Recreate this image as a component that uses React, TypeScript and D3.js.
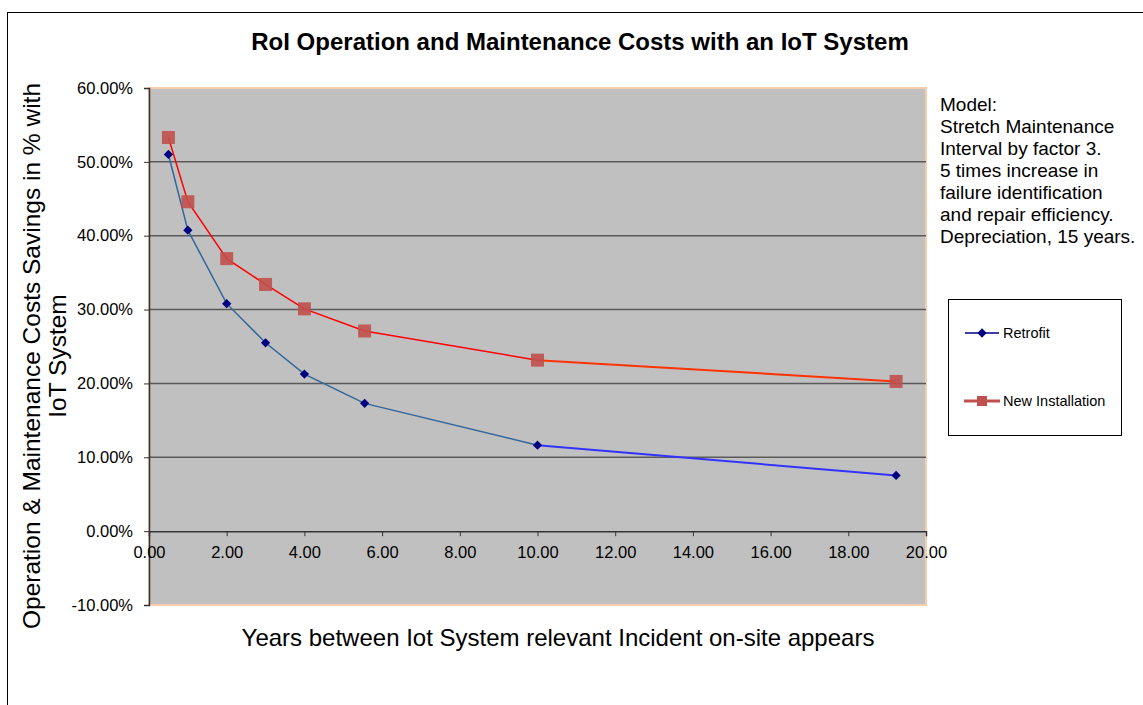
import React, { useEffect, useRef } from 'react';
import * as d3 from 'd3';

const years = [0.5, 1, 2, 3, 4, 5.55, 10, 19.23];
const retrofit = [0.51, 0.4075, 0.308, 0.255, 0.2126, 0.173, 0.1164, 0.0754];
const newInstallation = [0.533, 0.446, 0.369, 0.334, 0.301, 0.271, 0.2315, 0.2027];

const xTicks = [0, 2, 4, 6, 8, 10, 12, 14, 16, 18, 20];
const yTicks = [-0.1, 0, 0.1, 0.2, 0.3, 0.4, 0.5, 0.6];
const gridValues = [0.1, 0.2, 0.3, 0.4, 0.5];

const modelNote = [
  'Model:',
  'Stretch Maintenance',
  'Interval by factor 3.',
  '5 times increase in',
  'failure identification',
  'and repair efficiency.',
  'Depreciation, 15 years.',
];

const App: React.FC = () => {
  const svgRef = useRef<SVGSVGElement | null>(null);

  useEffect(() => {
    if (!svgRef.current) return;
    const svg = d3.select(svgRef.current);
    svg.selectAll('*').remove();
    const font = '"Liberation Sans", Arial, sans-serif';

    const left = 149, right = 926, top = 88, bottom = 605;
    const x = d3.scaleLinear().domain([0, 20]).range([left, right]);
    const y = d3.scaleLinear().domain([-0.1, 0.6]).range([bottom, top]);

    // outer frame
    svg.append('rect')
      .attr('x', 7.5).attr('y', 12.5)
      .attr('width', 1160).attr('height', 720)
      .attr('fill', 'white').attr('stroke', '#000').attr('stroke-width', 1);

    // plot area
    svg.append('rect')
      .attr('x', left).attr('y', top)
      .attr('width', right - left).attr('height', bottom - top)
      .attr('fill', '#c0c0c0').attr('stroke', '#f8cbad').attr('stroke-width', 2);

    // gridlines
    svg.append('g').selectAll('line')
      .data(gridValues)
      .join('line')
      .attr('x1', left).attr('x2', right)
      .attr('y1', d => y(d)).attr('y2', d => y(d))
      .attr('stroke', '#5a5a5a').attr('stroke-width', 1.5);

    const pct = (d: number) => (d < 0 ? '-' : '') + Math.abs(d * 100).toFixed(2) + '%';

    // y axis
    const yAxis = svg.append('g')
      .attr('transform', `translate(${left},0)`)
      .call(d3.axisLeft(y).tickValues(yTicks).tickSize(5).tickPadding(11)
        .tickFormat(d => pct(d as number)));
    yAxis.select('.domain').attr('stroke', '#333').attr('stroke-width', 1.5);
    yAxis.selectAll('.tick line').attr('stroke', '#333');
    yAxis.selectAll('text').style('font', `16.5px ${font}`).attr('fill', '#000');

    // x axis on the zero line
    const xAxis = svg.append('g')
      .attr('transform', `translate(0,${y(0)})`)
      .call(d3.axisBottom(x).tickValues(xTicks).tickSize(5).tickPadding(10)
        .tickFormat(d => (d as number).toFixed(2)));
    xAxis.select('.domain').attr('stroke', '#333').attr('stroke-width', 1.5);
    xAxis.selectAll('.tick line').attr('stroke', '#333');
    xAxis.selectAll('text').style('font', `16.5px ${font}`).attr('fill', '#000');

    const pts = (vals: number[]) => years.map((yr, i) => [x(yr), y(vals[i])] as [number, number]);
    const line = d3.line<[number, number]>();

    // retrofit series
    const rp = pts(retrofit);
    svg.append('path').attr('d', line(rp.slice(0, 7)))
      .attr('fill', 'none').attr('stroke', '#336699').attr('stroke-width', 1.5);
    svg.append('path').attr('d', line(rp.slice(6)))
      .attr('fill', 'none').attr('stroke', '#3333ff').attr('stroke-width', 2);

    // new installation series
    const np = pts(newInstallation);
    svg.append('path').attr('d', line(np.slice(0, 7)))
      .attr('fill', 'none').attr('stroke', '#ff0000').attr('stroke-width', 1.5);
    svg.append('path').attr('d', line(np.slice(6)))
      .attr('fill', 'none').attr('stroke', '#ff3300').attr('stroke-width', 2);

    svg.append('g').selectAll('rect')
      .data(np)
      .join('rect')
      .attr('x', d => d[0] - 6.5).attr('y', d => d[1] - 6.5)
      .attr('width', 13).attr('height', 13)
      .attr('fill', '#c0504d').attr('opacity', 0.9);

    const diamond = d3.symbol().type(d3.symbolDiamond2).size(55);
    svg.append('g').selectAll('path')
      .data(rp)
      .join('path')
      .attr('transform', d => `translate(${d[0]},${d[1]})`)
      .attr('d', diamond())
      .attr('fill', '#000080');

    // title
    svg.append('text')
      .attr('x', 580).attr('y', 50)
      .attr('text-anchor', 'middle')
      .style('font', `bold 24px ${font}`)
      .text('RoI Operation and Maintenance Costs with an IoT System');

    // y axis title
    const yTitle = svg.append('text')
      .attr('transform', `translate(0,356) rotate(-90)`)
      .attr('text-anchor', 'middle')
      .style('font', `24.5px ${font}`);
    yTitle.append('tspan').attr('x', 0).attr('y', 40).text('Operation & Maintenance Costs Savings in % with');
    yTitle.append('tspan').attr('x', 0).attr('y', 66).text('IoT System');

    // x axis title
    svg.append('text')
      .attr('x', 558).attr('y', 646)
      .attr('text-anchor', 'middle')
      .style('font', `24px ${font}`)
      .text('Years between Iot System relevant Incident on-site appears');

    // note
    svg.append('g').selectAll('text')
      .data(modelNote)
      .join('text')
      .attr('x', 940).attr('y', (d, i) => 111 + i * 22)
      .style('font', `19px ${font}`)
      .text(d => d);

    // legend
    svg.append('rect')
      .attr('x', 948.5).attr('y', 299.5)
      .attr('width', 173).attr('height', 136)
      .attr('fill', 'white').attr('stroke', '#000').attr('stroke-width', 1);

    const lg = svg.append('g');
    lg.append('line').attr('x1', 965).attr('x2', 999).attr('y1', 333).attr('y2', 333)
      .attr('stroke', '#000080').attr('stroke-width', 1.5);
    lg.append('path').attr('transform', 'translate(982,333)').attr('d', diamond()).attr('fill', '#000080');
    lg.append('text').attr('x', 1003).attr('y', 338).style('font', `14.5px ${font}`).text('Retrofit');

    lg.append('line').attr('x1', 964).attr('x2', 1000).attr('y1', 401).attr('y2', 401)
      .attr('stroke', '#c0504d').attr('stroke-width', 3);
    lg.append('rect').attr('x', 977).attr('y', 396).attr('width', 10).attr('height', 10).attr('fill', '#c0504d');
    lg.append('text').attr('x', 1003).attr('y', 406).style('font', `14.5px ${font}`).text('New Installation');
  }, []);

  return (
    <svg ref={svgRef} width={1143} height={705}
      style={{ position: 'absolute', left: 0, top: 0, display: 'block' }} />
  );
};

export default App;
